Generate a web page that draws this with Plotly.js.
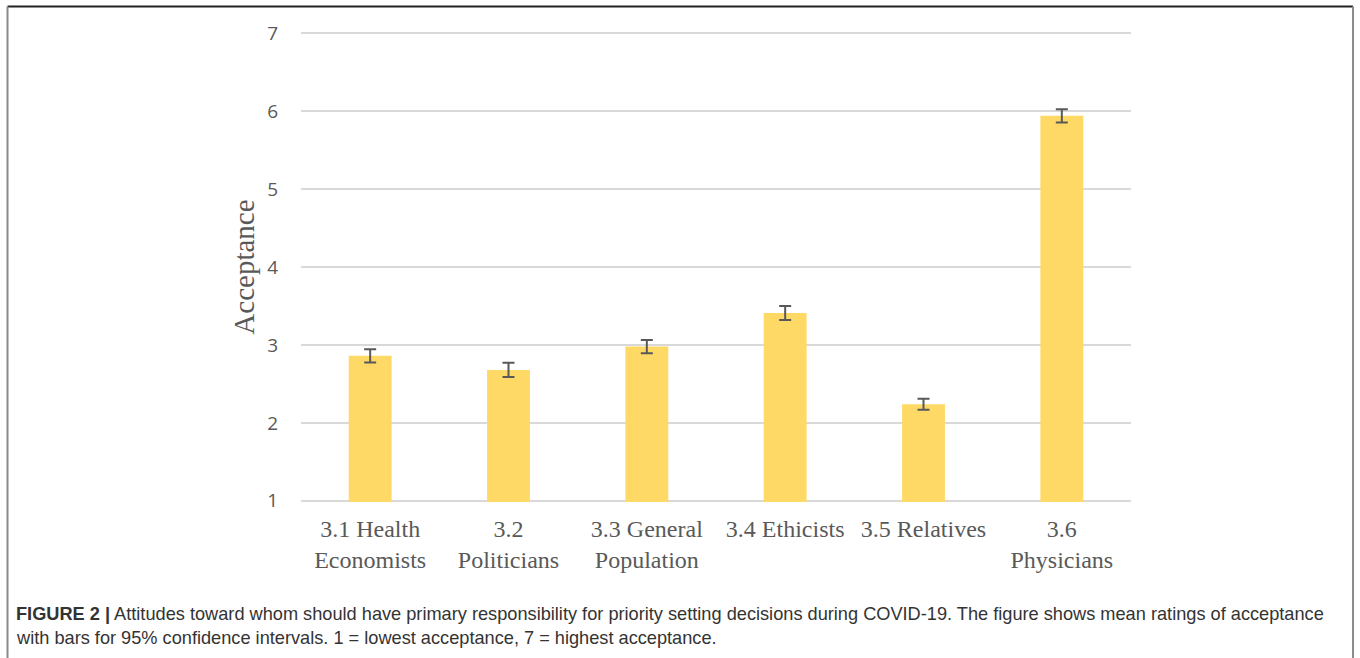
<!DOCTYPE html>
<html>
<head>
<meta charset="utf-8">
<script src="https://cdn.plot.ly/plotly-3.0.1.min.js"></script>
<style>
  html, body { margin: 0; padding: 0; background: #fff; }
  #chart { width: 1360px; height: 658px; }
</style>
</head>
<body>
<div id="chart"></div>
<script>
// Data
const categories = [
  "3.1 Health<br>Economists",
  "3.2<br>Politicians",
  "3.3 General<br>Population",
  "3.4 Ethicists",
  "3.5 Relatives",
  "3.6<br>Physicians"
];
const meanAcceptance = [2.86, 2.68, 2.98, 3.41, 2.24, 5.94];
const ci95 = [0.085, 0.09, 0.085, 0.09, 0.07, 0.085];
const yTickValues = [1, 2, 3, 4, 5, 6, 7];

const captionBold = "FIGURE 2 |";
const captionLine1 = " Attitudes toward whom should have primary responsibility for priority setting decisions during COVID-19. The figure shows mean ratings of acceptance";
const captionLine2 = "with bars for 95% confidence intervals. 1 = lowest acceptance, 7 = highest acceptance.";

const trace = {
  type: 'bar',
  x: categories,
  y: meanAcceptance,
  width: 0.31,
  marker: { color: '#FFD966' },
  error_y: {
    type: 'data',
    array: ci95,
    visible: true,
    color: '#595959',
    thickness: 2,
    width: 6
  },
  hoverinfo: 'none'
};

const layout = {
  width: 1360,
  height: 658,
  margin: { l: 301, r: 229, t: 32, b: 156 },
  paper_bgcolor: '#ffffff',
  plot_bgcolor: '#ffffff',
  showlegend: false,
  xaxis: {
    type: 'category',
    showgrid: false,
    zeroline: false,
    showline: false,
    ticks: 'outside',
    ticklen: 5,
    tickcolor: 'rgba(0,0,0,0)',
    tickfont: { family: '"Liberation Serif", "Times New Roman", serif', size: 24, color: '#595959' }
  },
  yaxis: {
    range: [0.985, 7.015],
    tickvals: yTickValues,
    showgrid: true,
    gridcolor: '#d9d9d9',
    gridwidth: 1.5,
    zeroline: false,
    showline: false,
    ticks: 'outside',
    ticklen: 18,
    tickcolor: 'rgba(0,0,0,0)',
    tickfont: { family: '"Open Sans", "Noto Sans", sans-serif', size: 19, color: '#595959' },
    title: {
      text: 'Acceptance',
      font: { family: '"Liberation Serif", "Times New Roman", serif', size: 29, color: '#595959' },
      standoff: 4
    }
  },
  shapes: [
    { type: 'line', xref: 'paper', yref: 'paper', x0: -0.3536, x1: 1.2675, y0: 1.0545, y1: 1.0545,
      line: { color: '#222222', width: 2 } },
    { type: 'line', xref: 'paper', yref: 'paper', x0: -0.3536, x1: -0.3536, y0: 1.0545, y1: -0.36,
      line: { color: '#8a8a8a', width: 2 } },
    { type: 'line', xref: 'paper', yref: 'paper', x0: 1.2675, x1: 1.2675, y0: 1.0545, y1: -0.36,
      line: { color: '#8a8a8a', width: 2 } }
  ],
  annotations: [
    { xref: 'paper', yref: 'paper', x: -0.3458, y: -0.2393, xanchor: 'left', yanchor: 'middle',
      showarrow: false, align: 'left',
      text: '<b>' + captionBold + '</b>' + captionLine1,
      font: { family: '"Liberation Sans", Arial, sans-serif', size: 18.2, color: '#333333' } },
    { xref: 'paper', yref: 'paper', x: -0.3458, y: -0.2890, xanchor: 'left', yanchor: 'middle',
      showarrow: false, align: 'left',
      text: captionLine2,
      font: { family: '"Liberation Sans", Arial, sans-serif', size: 18.2, color: '#333333' } }
  ]
};

Plotly.newPlot('chart', [trace], layout, { displayModeBar: false, staticPlot: true });
</script>
</body>
</html>
